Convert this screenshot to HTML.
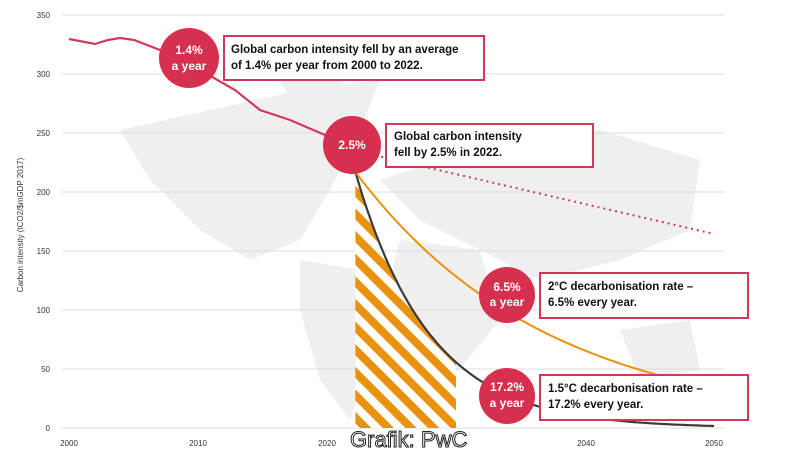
<!DOCTYPE html>
<html><head><meta charset="utf-8"><style>
html,body{margin:0;padding:0;background:#fff;}
svg{display:block;font-family:"Liberation Sans",Arial,sans-serif;}
.box{fill:#fff;stroke:#d2385a;stroke-width:2;}
.bt{font-size:11.5px;font-weight:bold;fill:#111;}
.ct{font-size:12px;font-weight:bold;fill:#fff;text-anchor:middle;}
.tk{font-size:8px;fill:#333;}
</style></head><body>
<svg id="s" width="802" height="462" viewBox="0 0 802 462">
<defs>
<pattern id="h" patternUnits="userSpaceOnUse" width="16" height="16" patternTransform="rotate(-45)">
<rect width="16" height="16" fill="#fff"/><rect width="8" height="16" fill="#e8920f"/>
</pattern>
</defs>
<g fill="#efefef">
<path d="M120 130 L210 110 L300 90 L380 80 L360 130 L330 190 L300 240 L250 260 L200 230 L150 180 Z"/>
<path d="M300 260 L360 270 L380 330 L350 420 L320 380 L300 310 Z"/>
<path d="M380 180 L470 150 L600 130 L700 160 L690 230 L620 260 L540 280 L480 250 L420 220 Z"/>
<path d="M400 240 L480 250 L500 320 L450 380 L420 330 L390 280 Z"/>
<path d="M620 330 L690 320 L700 370 L640 380 Z"/>
<path d="M270 60 L330 40 L360 60 L330 100 L290 100 Z"/>
</g>
<g stroke="#dcdcdc" stroke-width="1">
<line x1="62" y1="15" x2="724" y2="15"/><line x1="62" y1="74" x2="724" y2="74"/>
<line x1="62" y1="133" x2="724" y2="133"/><line x1="62" y1="192" x2="724" y2="192"/>
<line x1="62" y1="251" x2="724" y2="251"/><line x1="62" y1="310" x2="724" y2="310"/>
<line x1="62" y1="369" x2="724" y2="369"/><line x1="62" y1="428" x2="724" y2="428"/>
</g>
<g class="tk" text-anchor="end">
<text x="50" y="18">350</text><text x="50" y="77">300</text><text x="50" y="136">250</text>
<text x="50" y="195">200</text><text x="50" y="254">150</text><text x="50" y="313">100</text>
<text x="50" y="372">50</text><text x="50" y="431">0</text>
</g>
<g class="tk" text-anchor="middle">
<text x="69" y="446">2000</text><text x="198" y="446">2010</text><text x="327" y="446">2020</text>
<text x="586" y="446">2040</text><text x="714" y="446">2050</text>
</g>
<text class="tk" transform="translate(23,225) rotate(-90)" text-anchor="middle" font-size="9">Carbon intensity (tCO2/$mGDP 2017)</text>
<path id="hatch" fill="url(#h)"/>
<path id="blk" fill="none" stroke="#3a3a3a" stroke-width="2.2"/>
<path id="org" fill="none" stroke="#e8920f" stroke-width="2"/>
<path d="M352 150 L714 234" stroke="#d2385a" stroke-width="2" stroke-dasharray="2 4" fill="none"/>
<path d="M69 39 L95 44 L108 40 L120 38 L134 40 L160 50 L200 70 L235 90 L260 110 L290 120 L325 135 L352 150" fill="none" stroke="#d2385a" stroke-width="2.2"/>
<rect class="box" x="224" y="36" width="260" height="44"/>
<text class="bt" x="231" y="53">Global carbon intensity fell by an average</text>
<text class="bt" x="231" y="69">of 1.4% per year from 2000 to 2022.</text>
<rect class="box" x="386" y="124" width="207" height="43"/>
<text class="bt" x="394" y="140">Global carbon intensity</text>
<text class="bt" x="394" y="156">fell by 2.5% in 2022.</text>
<rect class="box" x="540" y="273" width="208" height="45"/>
<text class="bt" x="548" y="290">2°C decarbonisation rate –</text>
<text class="bt" x="548" y="306">6.5% every year.</text>
<rect class="box" x="540" y="375" width="208" height="45"/>
<text class="bt" x="548" y="392">1.5°C decarbonisation rate –</text>
<text class="bt" x="548" y="408">17.2% every year.</text>
<g fill="#d7304f">
<circle cx="189" cy="58" r="30"/><circle cx="352" cy="145" r="29"/>
<circle cx="507" cy="295" r="28"/><circle cx="507" cy="396" r="28"/>
</g>
<text class="ct" x="189" y="54">1.4%</text><text class="ct" x="189" y="70">a year</text>
<text class="ct" x="352" y="149">2.5%</text>
<text class="ct" x="507" y="291">6.5%</text><text class="ct" x="507" y="306">a year</text>
<text class="ct" x="507" y="391">17.2%</text><text class="ct" x="507" y="407">a year</text>
<text x="350" y="447" font-size="22" fill="#fff" stroke="#222" stroke-width="1">Grafik: PwC</text>
</svg>
<script>
function X(t){return 69+(t-2000)*12.9}
function Y(v){return 428-v*1.18}
function f(r,t){return 217*Math.pow(1-r,t-2022.2);}
function path(r){var d="";for(var t=2022.2;t<=2050.001;t+=0.2){d+=(d?"L":"M")+X(t).toFixed(1)+" "+Y(f(r,t)).toFixed(1)+" ";}return d;}
document.getElementById("org").setAttribute("d",path(0.065));
document.getElementById("blk").setAttribute("d",path(0.16));
var h="M"+X(2022.2)+" 428 ";for(var t=2022.2;t<=2030.01;t+=0.2){h+="L"+X(t).toFixed(1)+" "+Y(f(0.16,t)).toFixed(1)+" ";}
h+="L"+X(2030).toFixed(1)+" 428 Z";document.getElementById("hatch").setAttribute("d",h);
</script>
</body></html>
